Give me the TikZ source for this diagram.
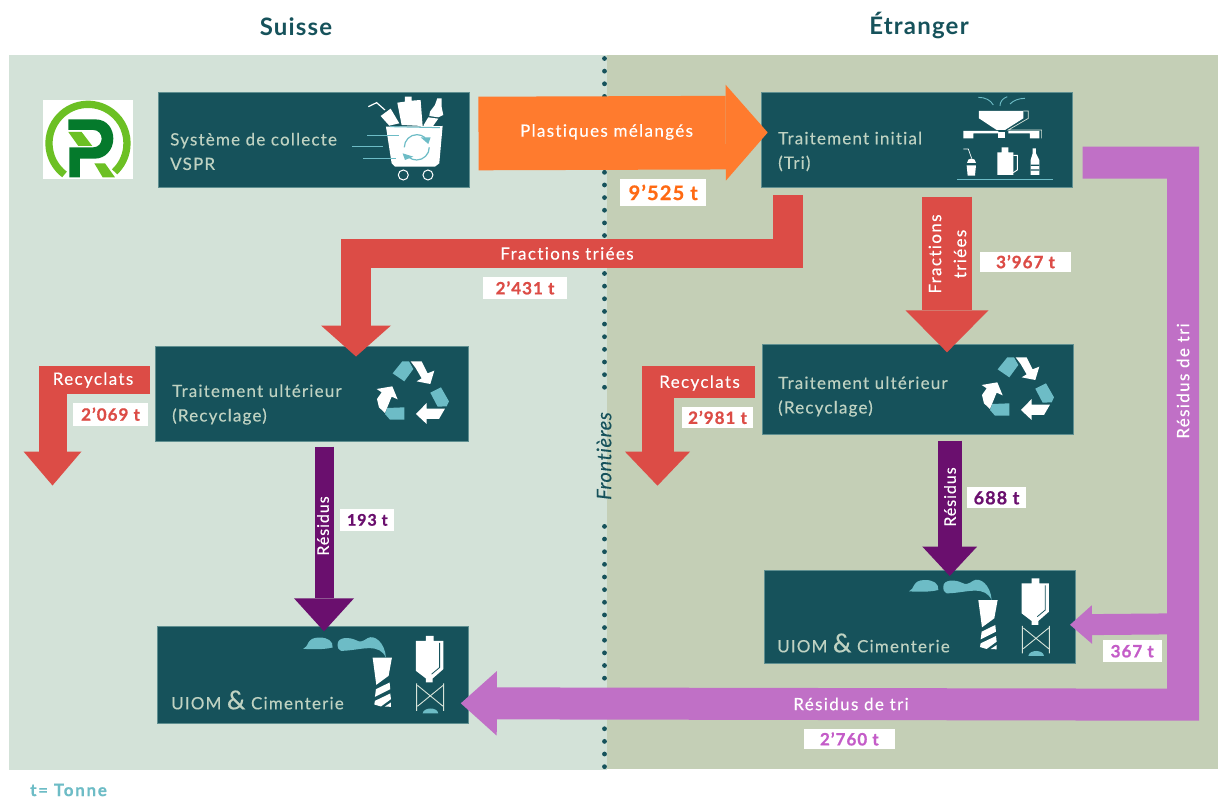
\documentclass[tikz,border=0pt]{standalone}
\usepackage{fontspec}
\setmainfont{Lato}[Ligatures={NoCommon,NoRequired,NoContextual}]
\usetikzlibrary{arrows.meta,calc}
\definecolor{panelL}{HTML}{D3E2D8}
\definecolor{panelR}{HTML}{C4CFB6}
\definecolor{boxfill}{HTML}{16525B}
\definecolor{boxline}{HTML}{5F8F90}
\definecolor{boxtxt}{HTML}{BFD2C2}
\definecolor{tealL}{HTML}{6DBCC6}
\definecolor{orangeA}{HTML}{FF7B2E}
\definecolor{orangeT}{HTML}{FF6A13}
\definecolor{redA}{HTML}{DC4C46}
\definecolor{purpleD}{HTML}{6A0F6E}
\definecolor{purpleL}{HTML}{C070C6}
\definecolor{purpleT}{HTML}{C45CC8}
\definecolor{logoL}{HTML}{6CC024}
\definecolor{logoD}{HTML}{057A2C}
\tikzset{
  x=1pt,y=-1pt,
  procbox/.style={draw=boxline,line width=.7pt,fill=boxfill,inner sep=0pt,outer sep=0pt,anchor=north west},
  boxtext/.style={text=boxtxt,anchor=west,align=left,inner sep=0pt,font=\fontsize{17}{24.5}\selectfont\addfontfeature{LetterSpace=7,FakeBold=.25}},
  flowtext/.style={text=white,inner sep=0pt,font=\fontsize{17}{25}\selectfont\addfontfeature{LetterSpace=8,FakeBold=.3}},
  residu/.style={text=white,inner sep=0pt,rotate=90,font=\fontsize{16}{18}\selectfont\addfontfeature{LetterSpace=6,FakeBold=.3}},
  qty/.style={fill=white,inner sep=0pt,outer sep=0pt,font=\fontsize{17}{17}\selectfont\bfseries\addfontfeature{LetterSpace=6,FakeBold=.8}},
  title/.style={text=boxfill,inner sep=0pt,font=\fontsize{24}{26}\selectfont\bfseries\addfontfeature{LetterSpace=5}},
  recycleicon/.pic={
    \begin{scope}[x=.3333pt,y=-.3333pt]
      \fill[tealL] (713,88)--(742,52)--(762,52)--(775,75)--(748,112)--cycle;
      \fill[white] (767,52)--(800,52)--(818,88)--(838,80)--(826,120)--(785,112)--(800,103)--(782,72)--cycle;
      \fill[tealL] (826,146)--(858,130)--(882,172)--(875,187)--(848,188)--cycle;
      \fill[white] (870,194)--(852,225)--(815,225)--(815,240)--(783,210)--(815,177)--(815,194)--cycle;
      \fill[tealL] (697,192)--(748,190)--(748,227)--(705,227)--(690,210)--cycle;
      \fill[white] (665,135)--(712,127)--(728,166)--(710,158)--(690,207)--(672,190)--(666,165)--(680,145)--cycle;
    \end{scope}},
  planticon/.pic={
    \begin{scope}[x=.3333pt,y=-.3333pt]
      \fill[tealL] (447,124) .. controls (465,118) and (455,90) .. (495,90) .. controls (520,90) and (537,100) .. (535,120) .. controls (510,126) and (480,126) .. (447,124)--cycle;
      \fill[tealL] (550,110) .. controls (550,88) and (585,88) .. (605,98) .. controls (618,105) and (625,102) .. (640,92) .. controls (660,80) and (692,105) .. (695,150) .. controls (685,130) and (670,122) .. (645,122) .. controls (620,122) and (590,130) .. (560,130) .. controls (552,128) and (550,120) .. (550,110)--cycle;
      \fill[white] (655,150)--(713,150)--(703,205)--(666,232)--cycle;
      \fill[white] (665,245)--(706,225)--(708,245)--(662,268)--cycle;
      \fill[white] (662,280)--(708,258)--(710,275)--(680,297)--(660,291)--cycle;
      \fill[white] (692,297)--(710,285)--(710,298)--cycle;
      \fill[white] (815,85)--(838,85)--(838,100)--(867,100)--(867,185)--(835,213)--(835,225)--(815,225)--(815,213)--(785,190)--(785,100)--(815,100)--cycle;
      \draw[boxfill,line width=.8pt] (856,106)--(856,180)--(832,200);
      \draw[boxtxt!60!white,line width=.9pt] (787,228)--(787,310) (868,228)--(868,310) (790,234)--(866,296) (866,234)--(790,296);
      \fill[tealL] (805,318) .. controls (808,298) and (850,298) .. (852,318)--cycle;
    \end{scope}},
}
\begin{document}
\begin{tikzpicture}
\useasboundingbox (0,0) rectangle (1218,800);
\fill[white] (0,0) rectangle (1218,800);
% panels
\fill[panelL] (9,55) rectangle (607,770);
\fill[panelR] (607,55) rectangle (1218,769);
\foreach \i in {0,...,26,37,38,...,56}
  \fill[boxfill] (604.5,58.5+12.646*\i) circle (2.4);
\node[title] (suisse) at (296,26.5) {Suisse};
\node[title] (etranger) at (919,25.5) {Étranger};
\node[text=boxfill,inner sep=0pt,rotate=90,font=\fontsize{20}{22}\selectfont\itshape\addfontfeature{LetterSpace=3,FakeBold=.2}] (front) at (604,456) {Frontières};
\node[text=tealL,inner sep=0pt,anchor=west,font=\fontsize{17}{18}\selectfont\bfseries\addfontfeature{LetterSpace=10,FakeBold=.6}] (tonne) at (30,790) {t= Tonne};
% logo
\fill[white] (43,100) rectangle (132.7,179);
\begin{scope}[shift={(0,60)},x=.3333pt,y=-.3333pt]
  \draw[logoL,line width=7.3pt] (193.6,343.4) arc[start angle=127,end angle=407,radius=117];
  \fill[logoD] (205,178)--(285,178) .. controls (325,178) and (340,210) .. (340,236) .. controls (340,270) and (315,296) .. (285,296)--(240,296)--(240,352)--(208,352)--(208,262)--(280,262) .. controls (295,262) and (305,250) .. (305,236) .. controls (305,222) and (295,210) .. (280,210)--(205,210)--cycle;
  \fill[logoL] (205,216)--(245,216)--(277,258)--(235,258)--cycle;
  \fill[logoL] (283,310)--(315,310)--(345,352)--(308,352)--cycle;
\end{scope}
% boxes
\node[procbox,minimum width=311pt,minimum height=95pt] (collect) at (158.5,92.5) {};
\node[procbox,minimum width=311pt,minimum height=95pt] (init) at (761.7,92) {};
\node[procbox,minimum width=313pt,minimum height=95pt] (recL) at (155.5,346) {};
\node[procbox,minimum width=310.5pt,minimum height=90pt] (recR) at (762.5,344.3) {};
\node[procbox,minimum width=311pt,minimum height=96.5pt] (uiomL) at (157.3,626.8) {};
\node[procbox,minimum width=311pt,minimum height=93pt] (uiomR) at (764,570) {};
\node[boxtext] (tCollect) at (170,151.5) {Système de collecte\\VSPR};
\node[boxtext] (tInit) at (778,151.5) {Traitement initial\\(Tri)};
\node[boxtext] (tRecL) at (172,404.5) {Traitement ultérieur\\(Recyclage)};
\node[boxtext] (tRecR) at (778,396.5) {Traitement ultérieur\\(Recyclage)};
\node[boxtext] (tUiomL) at (171,700) {UIOM {\fontsize{26}{26}\selectfont\&} Cimenterie};
\node[boxtext] (tUiomR) at (777,643) {UIOM {\fontsize{26}{26}\selectfont\&} Cimenterie};
% icons
\pic at (760,340) {recycleicon};
\pic at (155,344) {recycleicon};
\pic at (760,550) {planticon};
\pic at (154.3,607.5) {planticon};
% cart
\begin{scope}[shift={(0,60)},x=.3333pt,y=-.3333pt]
  \draw[white,line width=1.2pt] (1105,140)--(1130,128)--(1155,150);
  \fill[white] (1142,168)--(1172,146)--(1198,190)--(1168,197)--cycle;
  \fill[white] (1215,110)--(1235,110)--(1235,122)--(1262,120)--(1268,198)--(1205,195)--(1192,128)--(1215,125)--cycle;
  \fill[white] (1312,115)--(1325,115)--(1325,140)--(1330,165)--(1315,172)--(1288,168)--(1290,155)--(1305,135)--cycle;
  \fill[white] (1285,172)--(1315,176)--(1298,200)--(1270,197)--cycle;
  \fill[white] (1158,200)--(1328,198)--(1318,310)--(1305,320)--(1185,320)--(1175,310)--cycle;
  \draw[tealL,line width=1pt] (1170,200)--(1320,203);
  \draw[tealL,line width=1pt] (1102,226)--(1198,226) (1056,260)--(1150,260) (1090,296)--(1187,296);
  \draw[tealL,line width=1.2pt] (1213,262) arc[start angle=180,end angle=310,radius=38];
  \draw[tealL,line width=1.2pt] (1288,262) arc[start angle=0,end angle=130,radius=38];
  \fill[tealL] (1292,232)--(1262,232)--(1285,252)--cycle;
  \fill[tealL] (1208,280)--(1240,290)--(1215,300)--cycle;
  \draw[white,line width=1pt] (1210,345) circle[radius=15] (1284,345) circle[radius=15];
\end{scope}
% hopper
\begin{scope}[shift={(750,80)},x=.3333pt,y=-.3333pt]
  \draw[tealL,line width=.9pt] (685,52) .. controls (705,52) and (722,60) .. (730,75);
  \draw[tealL,line width=.9pt] (750,78) .. controls (750,65) and (758,55) .. (772,50);
  \draw[tealL,line width=.9pt] (780,72) .. controls (790,62) and (805,55) .. (825,55);
  \fill[white] (687,93)--(820,93)--(820,115)--(765,150)--(740,150)--(687,115)--cycle;
  \draw[boxtxt!60!white,line width=.7pt] (820,93)--(835,93)--(835,115)--(775,150)--(875,150)--(875,175);
  \fill[white] (640,153)--(745,153)--(745,160)--(670,160)--(670,175)--(640,175)--cycle;
  \fill[white] (745,155)--(765,155)--(765,175)--(745,175)--cycle;
  \fill[white] (775,153)--(868,153)--(868,175)--(840,175)--(840,160)--(775,160)--cycle;
  \draw[white,line width=.7pt] (640,207)--(655,207)--(665,235);
  \fill[white] (650,250) .. controls (650,230) and (678,230) .. (678,250)--cycle;
  \fill[white] (650,256)--(678,256)--(675,287)--(653,287)--cycle;
  \fill[white] (755,202)--(775,202)--(775,217)--(790,217)--(790,285)--(742,285)--(742,217)--(755,217)--cycle;
  \draw[white,line width=.9pt] (790,226)--(802,226)--(802,270)--(790,278);
  \fill[white] (848,205)--(858,205)--(858,220)--(868,240)--(868,285)--(842,285)--(842,240)--(848,220)--cycle;
  \fill[boxfill] (842,254) rectangle (868,258) (842,268) rectangle (868,272);
  \draw[tealL,line width=.9pt] (622,298)--(910,298);
\end{scope}
% connector ends
\coordinate (orangeS) at ($(collect.east)+(9,-6.5)$);
\coordinate (orangeE) at ($(init.north west)+(6,40.5)$);
\coordinate (fracS) at (788,195);
\coordinate (fracC1) at (788,253.5);
\coordinate (fracC2) at (356,253.5);
\coordinate (fracE) at ($(recL.north west)+(200.5,10.5)$);
\coordinate (recycLS) at (150,380);
\coordinate (recycLC) at (52.5,380);
\coordinate (recycLE) at (52.5,485.5);
\coordinate (recycRS) at (754.7,381.7);
\coordinate (recycRC) at (657.5,381.7);
\coordinate (recycRE) at (657.5,485.7);
\coordinate (fracRS) at (947,196.7);
\coordinate (fracRE) at ($(recR.north west)+(184.5,8)$);
\coordinate (resRS) at (949.7,440.7);
\coordinate (resRE) at ($(uiomR.north west)+(185.7,6)$);
\coordinate (resLS) at (324,446.7);
\coordinate (resLE) at ($(uiomL.north west)+(166.7,4.5)$);
\coordinate (triS) at ($(init.north east)+(10,70.7)$);
\coordinate (triC1) at (1183,162.7);
\coordinate (triC2) at (1183,704.7);
\coordinate (triE) at ($(uiomL.south east)+(-7.5,-20)$);
\coordinate (triBS) at (1180,623.8);
\coordinate (triBE) at ($(uiomR.east)+(-5,8.3)$);
% connectors
\draw[orangeA,line width=73.6pt,-{Triangle[width=96pt,length=42pt,line width=0pt]}] (orangeS) -- (orangeE);
\draw[redA,line width=29.5pt,-{Triangle[width=70pt,length=31pt,line width=0pt]}] (fracS) -- (fracC1) -- (fracC2) -- (fracE);
\draw[redA,line width=28pt,-{Triangle[width=58pt,length=34pt,line width=0pt]}] (recycLS) -- (recycLC) -- (recycLE);
\draw[redA,line width=32pt,-{Triangle[width=65pt,length=34pt,line width=0pt]}] (recycRS) -- (recycRC) -- (recycRE);
\draw[redA,line width=50pt,-{Triangle[width=83pt,length=42pt,line width=0pt]}] (fracRS) -- (fracRE);
\draw[purpleD,line width=24pt,-{Triangle[width=55pt,length=29.5pt,line width=0pt]}] (resRS) -- (resRE);
\draw[purpleD,line width=19pt,-{Triangle[width=60pt,length=33pt,line width=0pt]}] (resLS) -- (resLE);
\draw[purpleL,line width=32pt,-{Triangle[width=64.6pt,length=36pt,line width=0pt]}] (triS) -- (triC1) -- (triC2) -- (triE);
\draw[purpleL,line width=21pt,-{Triangle[width=38.7pt,length=22pt,line width=0pt]}] (triBS) -- (triBE);
% flow labels
\node[flowtext] (lPlast) at (606.5,132) {Plastiques mélangés};
\node[flowtext] (lFrac) at (567,253.5) {Fractions triées};
\node[flowtext] (lRecL) at (93,380) {Recyclats};
\node[flowtext] (lRecR) at (699.5,383) {Recyclats};
\node[flowtext,rotate=90,align=center] (lFracR) at (947.5,254) {Fractions\\triées};
\node[residu] (lResL) at (323,526) {Résidus};
\node[residu] (lResR) at (950,497) {Résidus};
\node[flowtext,rotate=90] (lTriV) at (1183,381) {Résidus de tri};
\node[flowtext] (lTriH) at (851,704) {Résidus de tri};
% quantities
\node[qty,text=orangeT,minimum width=85.7pt,minimum height=27.3pt,font=\fontsize{20}{20}\selectfont\bfseries\addfontfeature{LetterSpace=6,FakeBold=.8}] (q1) at (663.2,192.4) {9’525 t};
\node[qty,text=redA,minimum width=83.4pt,minimum height=21.7pt] (q2) at (525,287.9) {2’431 t};
\node[qty,text=redA,minimum width=74.4pt,minimum height=23pt] (q3) at (110.5,414.2) {2’069 t};
\node[qty,text=purpleD,minimum width=54pt,minimum height=22.3pt,font=\fontsize{16}{16}\selectfont\bfseries\addfontfeature{LetterSpace=6,FakeBold=.8}] (q4) at (367.3,519.9) {193 t};
\node[qty,text=redA,minimum width=91pt,minimum height=20pt] (q5) at (1025.5,261.7) {3’967 t};
\node[qty,text=redA,minimum width=70.4pt,minimum height=20.7pt] (q6) at (717.5,417.4) {2’981 t};
\node[qty,text=purpleD,minimum width=58.4pt,minimum height=21pt,font=\fontsize{18}{18}\selectfont\bfseries\addfontfeature{LetterSpace=6,FakeBold=.8}] (q7) at (996.5,497.8) {688 t};
\node[qty,text=purpleT,minimum width=59pt,minimum height=21.7pt] (q8) at (1132.2,651.2) {367 t};
\node[qty,text=purpleT,minimum width=90.7pt,minimum height=20.3pt] (q9) at (849.3,738.9) {2’760 t};
\end{tikzpicture}
\end{document}
